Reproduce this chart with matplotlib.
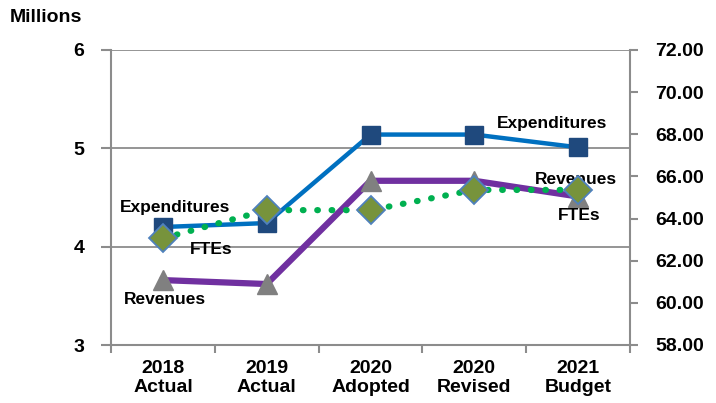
import matplotlib.pyplot as plt
import numpy as np

plt.rcParams["font.family"] = ["Liberation Sans", "DejaVu Sans"]
plt.rcParams["font.weight"] = "bold"

CATEGORIES = ["2018\nActual", "2019\nActual", "2020\nAdopted", "2020\nRevised", "2021\nBudget"]
EXPENDITURES = [4.20, 4.24, 5.14, 5.14, 5.01]
REVENUES = [3.66, 3.62, 4.67, 4.67, 4.51]
FTES = [63.06, 64.40, 64.40, 65.36, 65.36]

LEFT_TICKS = [3, 4, 5, 6]
RIGHT_TICKS = [58, 60, 62, 64, 66, 68, 70, 72]

GRID = "#8c8c8c"

fig = plt.figure(figsize=(7.16, 4.03), dpi=100)
ax = fig.add_axes([111 / 716, 58 / 403, 519 / 716, 295 / 403])
x = np.arange(len(CATEGORIES))

ax.plot(x, EXPENDITURES, color="#0070C0", linewidth=3.2, marker="s", markersize=13,
        markerfacecolor="#1F497D", markeredgecolor="#1F497D", zorder=3)
ax.plot(x, REVENUES, color="#7030A0", linewidth=4.5, marker="^", markersize=14,
        markerfacecolor="#808080", markeredgecolor="#808080", zorder=3)

ax.set_xlim(-0.5, len(CATEGORIES) - 0.5)
ax.set_ylim(3, 6)
ax.set_yticks(LEFT_TICKS)
ax.set_yticklabels([str(v) for v in LEFT_TICKS])
ax.set_xticks(x)
ax.set_xticklabels(CATEGORIES, fontsize=14, fontweight="bold", linespacing=1.15)
ax.set_xticks(np.arange(len(CATEGORIES) + 1) - 0.5, minor=True)
ax.tick_params(axis="x", which="major", length=0, pad=11)
ax.tick_params(axis="x", which="minor", length=6, color=GRID, width=1.5)
ax.tick_params(axis="y", length=7, color=GRID, width=1.5, labelsize=14, pad=12)
ax.grid(axis="y", color=GRID, linewidth=1.3)
ax.set_axisbelow(True)
for spine in ["top", "right"]:
    ax.spines[spine].set_visible(False)
for spine in ["left", "bottom"]:
    ax.spines[spine].set_color(GRID)
    ax.spines[spine].set_linewidth(1.5)

ax2 = ax.twinx()
ax2.plot(x, FTES, color="#00B050", linewidth=4.5, linestyle=(0, (0.1, 2.2)),
         dash_capstyle="round", marker="D", markersize=14,
         markerfacecolor="#77933C", markeredgecolor="#4F81BD", markeredgewidth=1.3, zorder=4)
ax2.set_ylim(58, 72)
ax2.set_yticks(RIGHT_TICKS)
ax2.set_yticklabels([f"{v:.2f}" for v in RIGHT_TICKS])
ax2.tick_params(axis="y", length=6, color=GRID, width=1.5, labelsize=14, pad=12)
for spine in ["top", "left", "bottom"]:
    ax2.spines[spine].set_visible(False)
ax2.spines["right"].set_color(GRID)
ax2.spines["right"].set_linewidth(1.5)

label_style = {"fontsize": 12.5, "fontweight": "bold", "ha": "center", "va": "center", "zorder": 6}
ax.text(0.12, 4.40, "Expenditures", **label_style)
ax.text(0.47, 3.97, "FTEs", **label_style)
ax.text(0.02, 3.46, "Revenues", **label_style)
ax.text(3.75, 5.25, "Expenditures", **label_style)
ax.text(3.98, 4.68, "Revenues", **label_style)
ax.text(4.01, 4.32, "FTEs", **label_style)

fig.text(10 / 716, 1 - 17 / 403, "Millions", fontsize=14, fontweight="bold", ha="left", va="center")

fig.savefig("out.png", dpi=100)
